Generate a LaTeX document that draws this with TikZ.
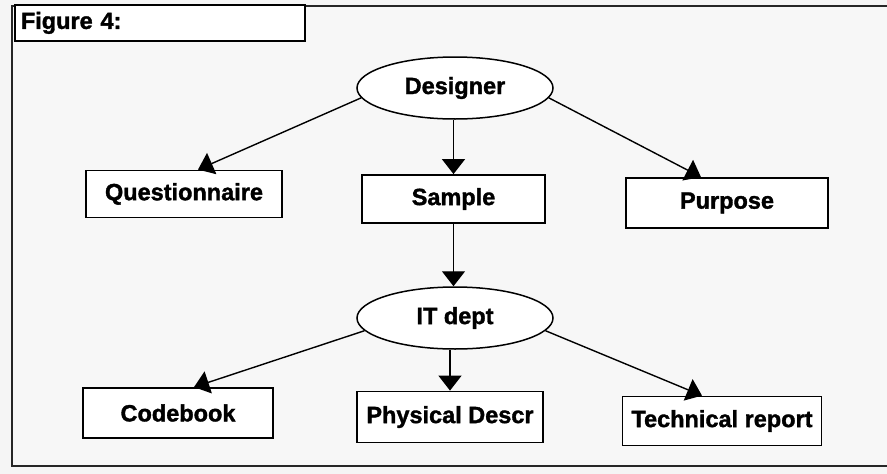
\documentclass[tikz,border=0pt]{standalone}
\usepackage{fontspec}
\setmainfont[BoldFeatures={FakeBold=1.5}]{Liberation Sans}
\usetikzlibrary{arrows.meta,shapes.geometric}
\tikzset{
  lbl/.style={font=\bfseries\fontsize{23.5}{25}\selectfont},
  boxnode/.style={lbl,draw=black,line width=1.8pt,fill=white,inner sep=0pt},
  ovalnode/.style={lbl,ellipse,draw=black,line width=1.5pt,fill=white,inner sep=0pt,minimum width=196pt,minimum height=62pt},
  conn/.style={line width=1.4pt,-{Triangle[width=23pt,length=15pt]}},
  framepen/.style={line width=2pt,draw=black!85}
}
\begin{document}
\begin{tikzpicture}[x=1pt,y=-1pt]
\useasboundingbox (0,0) rectangle (887,474);
\fill[black!4] (0,0) rectangle (887,474);
\fill[white!97!black] (12,6) rectangle (887,466);
% outer frame
\coordinate (ftr) at (887,6);
\coordinate (ftl) at (12,6);
\coordinate (fbl) at (12,466);
\coordinate (fbr) at (887,466);
\draw[framepen] (ftr) -- (ftl) -- (fbl) -- (fbr);
% figure label box
\node[boxnode,minimum width=290pt,minimum height=36pt,anchor=north west,text width=278pt,align=left,fill=white] (fig) at (14,4) {Figure 4:};
% nodes
\node[ovalnode] (des) at (455,88) {Designer};
\node[boxnode,minimum width=196pt,minimum height=47pt] (que) at (184,194) {Questionnaire};
\node[boxnode,minimum width=183pt,minimum height=48pt] (sam) at (453.5,199) {Sample};
\node[boxnode,minimum width=202pt,minimum height=50pt] (pur) at (727,203) {Purpose};
\node[ovalnode] (itd) at (455,318) {IT dept};
\node[boxnode,minimum width=190pt,minimum height=50pt] (cod) at (178,413) {Codebook};
\node[boxnode,minimum width=186pt,minimum height=51pt] (phy) at (450,417) {Physical Descr};
\node[boxnode,minimum width=199pt,minimum height=49pt] (tec) at (722,421) {Technical report};
% connectors
\draw[conn] (des.186) -- (que.north -| 198,0);
\draw[conn] (des.south -| sam.north) -- (sam.north);
\draw[conn] (des.354) -- (pur.north -| 701,0);
\draw[conn] (sam.south) -- (itd.north -| sam.south);
\draw[conn] (itd.188) -- (cod.north -| 194,0);
\draw[conn] (itd.south -| phy.north) -- (phy.north);
\draw[conn] (itd.352) -- (tec.north -| 702,0);
\end{tikzpicture}
\end{document}
